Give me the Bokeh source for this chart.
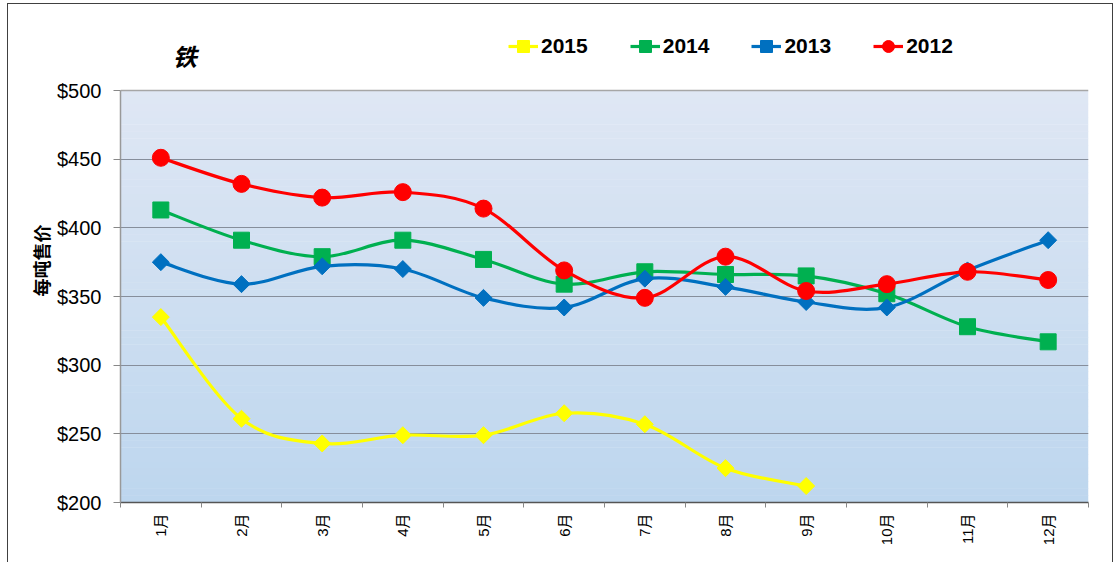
import math
from bokeh.plotting import figure
from bokeh.models import (Range1d, FixedTicker, NumeralTickFormatter, Legend, LegendItem, Label, Grid)
from bokeh.embed import file_html
from bokeh.resources import INLINE

months = ["1月", "2月", "3月", "4月", "5月", "6月", "7月", "8月", "9月", "10月", "11月", "12月"]
y2015 = [335, 261, 243, 249, 249, 265, 257, 225, 212]
y2014 = [413, 391, 379, 391, 377, 359, 368, 366, 365, 352, 328, 317]
y2013 = [375, 359, 372, 370, 349, 342, 363, 357, 346, 342, 369, 391]
y2012 = [451, 432, 422, 426, 414, 369, 349, 379, 354, 359, 368, 362]
y_ticks = [200, 250, 300, 350, 400, 450, 500]
y_min, y_max = 200, 500
title_text = "铁"
y_label = "每吨售价"

FONT = "'Liberation Sans', 'Noto Sans CJK SC', sans-serif"

# plot area is 412 px for 300 units; the frame extends above it to hold title & legend
FRAME_H = 484
y_top = y_min + FRAME_H * (y_max - y_min) / 412.0

p = figure(width=1106, height=559, output_backend="svg", toolbar_location=None,
           x_range=Range1d(0.5, 12.5), y_range=Range1d(y_min, y_top),
           min_border_left=112, min_border_right=26, min_border_top=14, min_border_bottom=61)
p.styles = {"border-top": "1px solid #404040", "border-left": "1px solid #404040",
            "border-right": "1px solid #404040", "margin-left": "7px", "margin-top": "3px"}
p.background_fill_color = "#ffffff"
p.outline_line_color = None

# background gradient of the plot area
top_c = (0xdf, 0xe7, 0xf4)
bot_c = (0xbd, 0xd6, 0xee)
n = 60
bots, tops, cols = [], [], []
for i in range(n):
    b = y_min + (y_max - y_min) * i / n
    t = y_min + (y_max - y_min) * (i + 1) / n
    f = (i + 0.5) / n
    c = tuple(int(round(bot_c[k] + (top_c[k] - bot_c[k]) * f)) for k in range(3))
    bots.append(b); tops.append(min(t + 0.3, y_max)); cols.append("#%02x%02x%02x" % c)
bg = p.quad(left=0.5, right=12.5, bottom=bots, top=tops, fill_color=cols, line_color=None)
bg.level = "image"

p.xgrid.ticker = FixedTicker(ticks=[12.5])
p.xgrid.bounds = (y_min, y_max)
p.xgrid.grid_line_color = "#a6a6a6"
p.xgrid.grid_line_width = 1.5
p.ygrid.grid_line_color = "#868e9b"
p.ygrid.grid_line_width = 1.2
p.ygrid.ticker = FixedTicker(ticks=y_ticks[1:-1])
p.add_layout(Grid(dimension=1, ticker=FixedTicker(ticks=[y_max]),
                  grid_line_color="#a6a6a6", grid_line_width=1.5))

# axes
p.yaxis.bounds = (y_min, y_max)
p.yaxis.ticker = FixedTicker(ticks=y_ticks)
p.yaxis.formatter = NumeralTickFormatter(format="$0")
p.yaxis.major_label_text_font = FONT
p.yaxis.major_label_text_font_size = "20px"
p.yaxis.major_label_text_color = "#000000"
p.yaxis.major_tick_out = 7
p.yaxis.major_tick_in = 0
p.yaxis.minor_tick_line_color = None
p.yaxis.major_tick_line_color = "#888888"
p.yaxis.axis_line_color = "#999999"
p.yaxis.axis_line_width = 1.5
p.yaxis.major_label_standoff = 12
p.yaxis.axis_label = y_label
p.yaxis.axis_label_text_font = "Noto Sans CJK SC"
p.yaxis.axis_label_text_font_style = "bold"
p.yaxis.axis_label_text_font_size = "18px"
p.yaxis.axis_label_text_color = "#000000"
p.yaxis.axis_label_standoff = 0

xt = list(range(1, 13))
p.xaxis.ticker = FixedTicker(ticks=xt, minor_ticks=[i + 0.5 for i in range(0, 13)])
p.xaxis.major_label_overrides = {i + 1: m for i, m in enumerate(months)}
p.xaxis.major_label_orientation = math.pi / 2
p.xaxis.major_label_text_font = FONT
p.xaxis.major_label_text_font_size = "15px"
p.xaxis.major_label_text_color = "#000000"
p.xaxis.major_tick_line_color = None
p.xaxis.major_tick_out = 5
p.xaxis.major_tick_in = 0
p.xaxis.minor_tick_out = 5
p.xaxis.minor_tick_in = 0
p.xaxis.minor_tick_line_color = "#888888"
p.xaxis.axis_line_color = "#555555"
p.xaxis.axis_line_width = 1.5
p.xaxis.major_label_standoff = 6


def smooth(xs, ys):
    m = len(xs)
    out = dict(x0=[], y0=[], x1=[], y1=[], cx0=[], cy0=[], cx1=[], cy1=[])
    for i in range(m - 1):
        i0 = max(i - 1, 0); i3 = min(i + 2, m - 1)
        out["x0"].append(xs[i]); out["y0"].append(ys[i])
        out["x1"].append(xs[i + 1]); out["y1"].append(ys[i + 1])
        out["cx0"].append(xs[i] + (xs[i + 1] - xs[i0]) / 6)
        out["cy0"].append(ys[i] + (ys[i + 1] - ys[i0]) / 6)
        out["cx1"].append(xs[i + 1] - (xs[i3] - xs[i]) / 6)
        out["cy1"].append(ys[i + 1] - (ys[i3] - ys[i]) / 6)
    return out


series = [
    ("2015", y2015, "#ffff00", "square", 12, math.pi / 4),
    ("2014", y2014, "#00b050", "square", 16, 0),
    ("2013", y2013, "#0070c0", "square", 12, math.pi / 4),
    ("2012", y2012, "#ff0000", "circle", 17, 0),
]
items = []
for name, ys, color, marker, size, ang in series:
    xs = list(range(1, len(ys) + 1))
    d = smooth(xs, ys)
    rl = p.bezier(x0=d["x0"], y0=d["y0"], x1=d["x1"], y1=d["y1"],
                  cx0=d["cx0"], cy0=d["cy0"], cx1=d["cx1"], cy1=d["cy1"],
                  line_color=color, line_width=3.2)
    rs = p.scatter(x=xs, y=ys, marker=marker, size=size, angle=ang,
                   fill_color=color, line_color=color)
    items.append(LegendItem(label=name, renderers=[rl, rs]))

legend = Legend(items=items, orientation="horizontal", location=(388, 441),
                glyph_width=30, glyph_height=30, label_standoff=3, spacing=42,
                padding=0, margin=0, background_fill_alpha=0, border_line_color=None,
                label_text_font=FONT, label_text_font_style="bold",
                label_text_font_size="21px", label_text_color="#000000")
p.add_layout(legend, "center")

p.add_layout(Label(x=1.295, y=525.5, text=title_text, text_font="Noto Sans CJK SC",
                   text_font_style="bold italic", text_font_size="24px",
                   text_align="center", text_baseline="middle", text_color="#000000"))

open("out.html", "w").write(file_html(p, INLINE))
